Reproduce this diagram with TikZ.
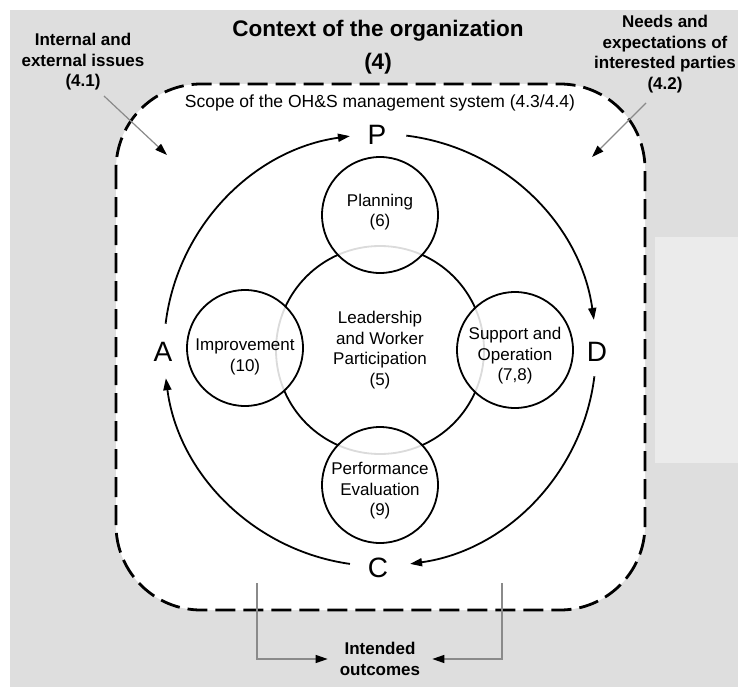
\documentclass[tikz,border=0pt]{standalone}
\usepackage{fontspec}
\setmainfont{Liberation Sans}
\usetikzlibrary{arrows.meta}
\definecolor{bggray}{HTML}{DEDEDE}
\definecolor{bglight}{HTML}{EBEBEB}
\definecolor{linegray}{HTML}{8A8A8A}
\begin{document}
\begin{tikzpicture}[x=1pt,y=-1pt,
  outerlbl/.style={font=\fontsize{17}{20.5}\selectfont\bfseries, align=center, inner sep=0pt},
  innerlbl/.style={font=\fontsize{17}{20.5}\selectfont, align=center, inner sep=0pt},
  pdca/.style={font=\fontsize{28}{30}\selectfont, inner sep=0pt},
  sub/.style={circle, draw, line width=1.8pt, minimum size=116pt, inner sep=0pt, fill=white, fill opacity=0.86},
  cyc/.style={line width=1.8pt, -{Triangle[length=12pt,width=8pt]}},
  feed/.style={draw=linegray, line width=1.2pt, -{Triangle[length=12pt,width=8pt,color=black]}},
]
\useasboundingbox (0,0) rectangle (738,687);
\fill[white] (0,0) rectangle (738,687);
\fill[bggray] (10,10) rectangle (738,687);
\fill[bglight] (655,237) rectangle (738,463);
\draw[fill=white, line width=2.8pt, dash pattern=on 20pt off 8pt, rounded corners=85pt] (116,84) rectangle (645,610);

% titles and outer labels
\node[font=\fontsize{22.5}{33}\selectfont\bfseries, align=center, inner sep=0pt] (title) at (378,47) {Context of the organization\\(4)};
\node[font=\fontsize{17.5}{20}\selectfont, inner sep=0pt] (scope) at (380,103) {Scope of the OH\&S management system (4.3/4.4)};
\node[outerlbl] (iss) at (83,62) {Internal and\\external issues\\(4.1)};
\node[outerlbl] (need) at (665,54) {Needs and\\expectations of\\interested parties\\(4.2)};

% inner circles
\coordinate (O) at (380,350);
\node[circle, draw, line width=1.8pt, minimum size=208pt, inner sep=0pt] (lead) at (O) {};
\node[sub] (plan) at (380,215) {};
\node[sub] (impr) at (245,348) {};
\node[sub] (supp) at (515,350) {};
\node[sub] (perf) at (380,485) {};

\node[innerlbl] (leadT) at (380,350) {Leadership\\and Worker\\Participation\\(5)};
\node[innerlbl] (planT) at (380,212) {Planning\\(6)};
\node[innerlbl] (imprT) at (245,357) {Improvement\\(10)};
\node[innerlbl] (suppT) at (515,356) {Support and\\Operation\\(7,8)};
\node[innerlbl] (perfT) at (380,491) {Performance\\Evaluation\\(9)};

% PDCA labels
\node[pdca] (P) at (377,135) {P};
\node[pdca] (D) at (597,352) {D};
\node[pdca] (C) at (378,568) {C};
\node[pdca] (A) at (163,352) {A};

% PDCA arcs
\draw[cyc] ([shift={(-173:216)}]O) arc[start angle=-173, end angle=-98, radius=216];
\draw[cyc] ([shift={(-83:216)}]O) arc[start angle=-83, end angle=-8, radius=216];
\draw[cyc] ([shift={(7:216)}]O) arc[start angle=7, end angle=82, radius=216];
\draw[cyc] ([shift={(98:216)}]O) arc[start angle=98, end angle=172.5, radius=216];

% inputs
\coordinate (issA) at (104,96);
\coordinate (issB) at (167,155);
\draw[feed] (issA) -- (issB);
\coordinate (needA) at (646,103);
\coordinate (needB) at (592,157);
\draw[feed] (needA) -- (needB);

% outcomes
\node[outerlbl, inner xsep=12pt] (out) at (380,659) {Intended\\outcomes};
\coordinate (bl) at (257,583);
\coordinate (br) at (502,583);
\draw[feed] (bl) |- (out.west);
\draw[feed] (br) |- (out.east);
\end{tikzpicture}
\end{document}
